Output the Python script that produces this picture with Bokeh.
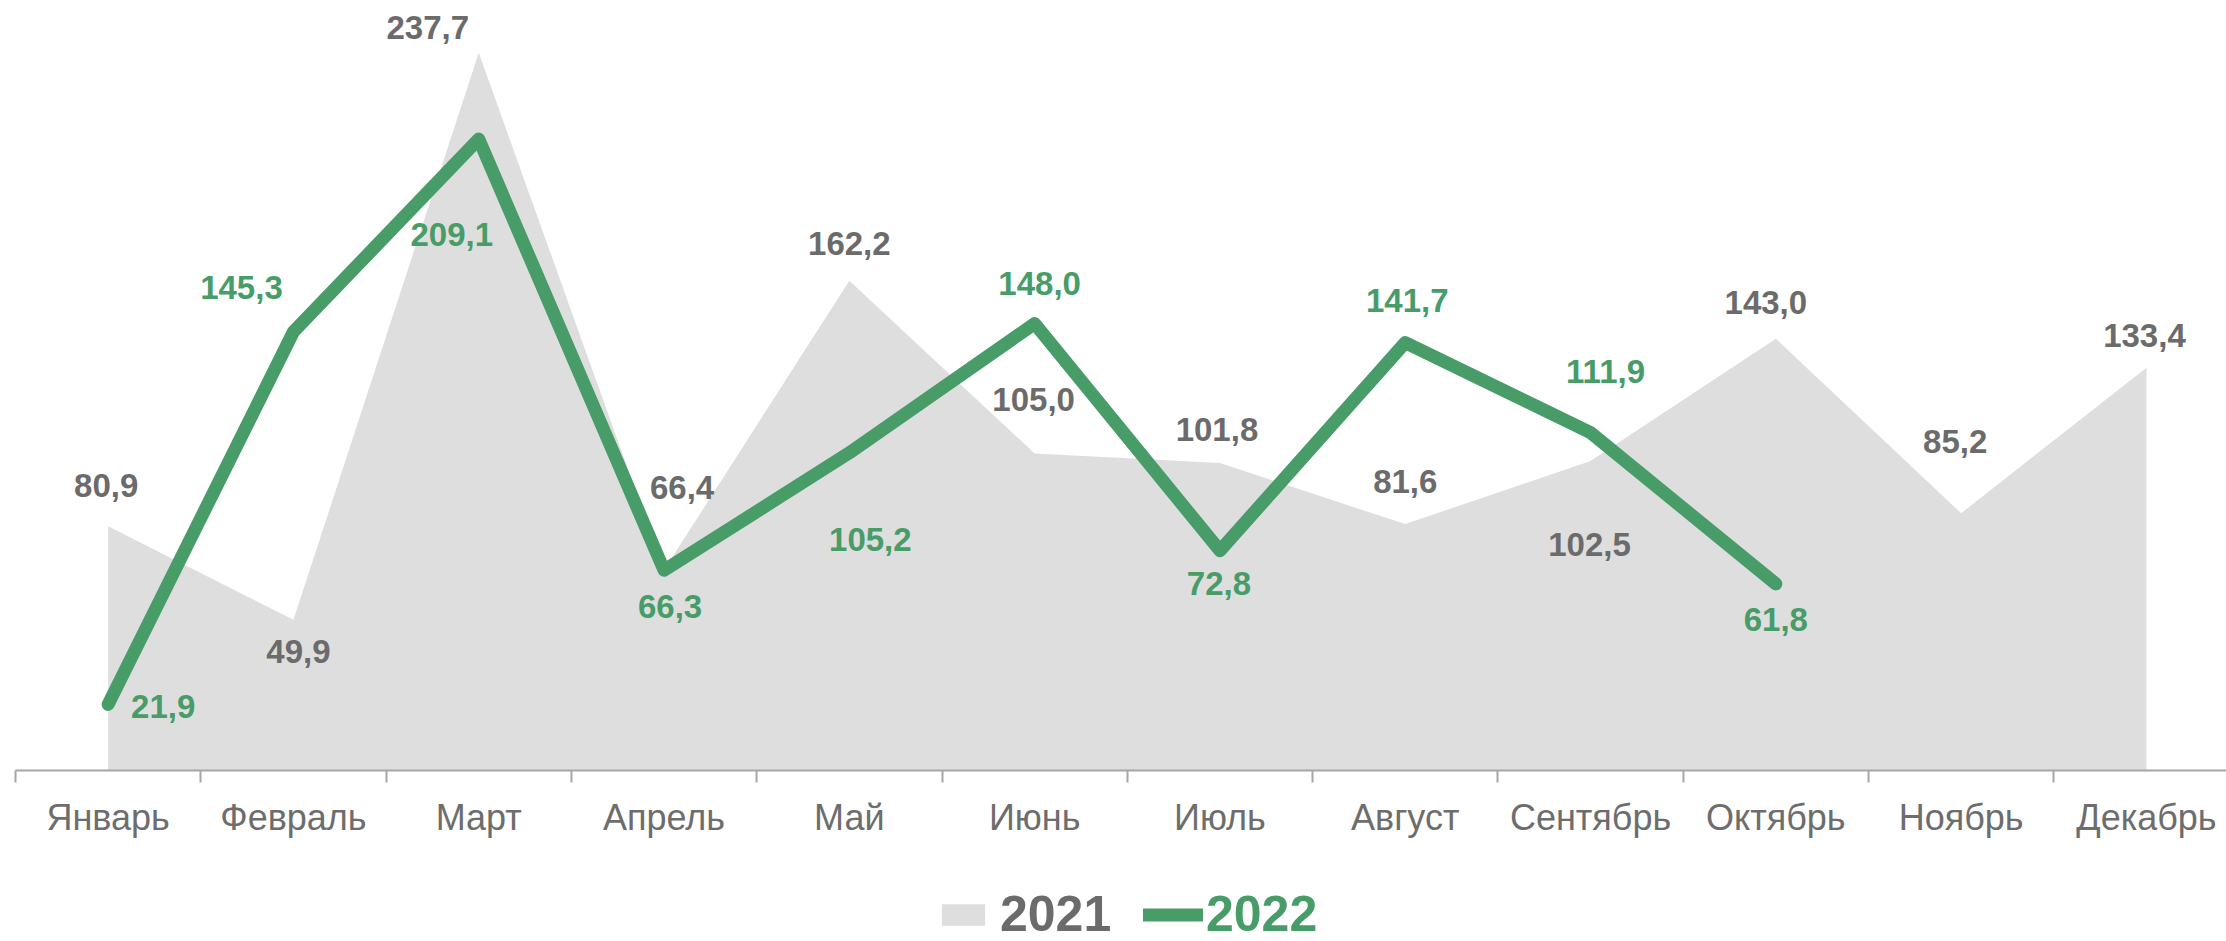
from bokeh.plotting import figure
from bokeh.layouts import column
from bokeh.models import ColumnDataSource, FixedTicker, Legend, LegendItem, Range1d
from bokeh.core.properties import value
from bokeh.embed import file_html
from bokeh.resources import INLINE

# ---- data ----
months = ["Январь", "Февраль", "Март", "Апрель", "Май", "Июнь",
          "Июль", "Август", "Сентябрь", "Октябрь", "Ноябрь", "Декабрь"]
values_2021 = [80.9, 49.9, 237.7, 66.4, 162.2, 105.0, 101.8, 81.6, 102.5, 143.0, 85.2, 133.4]
values_2022 = [21.9, 145.3, 209.1, 66.3, 105.2, 148.0, 72.8, 141.7, 111.9, 61.8]
series_names = ["2021", "2022"]
labels_2021 = [f"{v:.1f}".replace(".", ",") for v in values_2021]
labels_2022 = [f"{v:.1f}".replace(".", ",") for v in values_2022]

# ---- layout: label offsets in screen pixels ----
dx_2021 = [-2, 5, -51, 18, 0, -1, -3, 0, -1, -10, -6, -2]
dy_2021 = [-41, 32, -25, -82, -37, -54, -34, -43, 84, -36, -72, -32]
dx_2022 = [55, -52, -27, 6, 21, 5, -1, 2, 15, 0]
dy_2022 = [2, -44, 95, 36, 87, -40, 33, -42, -61, 36]

GRAY_AREA = "#dedede"
GREEN = "#479c68"
GRAY_TEXT = "#6b6b6b"
AXIS = "#a6a6a6"
FONT = "Liberation Sans"

W = 2226
MAIN_H = 850
LEG_H = 91

p = figure(width=W, height=MAIN_H, output_backend="svg", toolbar_location=None,
           x_range=Range1d(-0.5, 11.432), y_range=Range1d(0, 255),
           y_axis_location=None, min_border_left=15, min_border_right=0,
           min_border_top=0, min_border_bottom=MAIN_H - 770)
p.outline_line_color = None
p.grid.visible = False

x21 = list(range(len(values_2021)))
x22 = list(range(len(values_2022)))

src21 = ColumnDataSource(dict(x=x21, y=values_2021, t=labels_2021, dx=dx_2021, dy=dy_2021))
src22 = ColumnDataSource(dict(x=x22, y=values_2022, t=labels_2022, dx=dx_2022, dy=dy_2022))

area = p.varea(x="x", y1=0, y2="y", source=src21, fill_color=GRAY_AREA)
line = p.line(x="x", y="y", source=src22, line_color=GREEN, line_width=13,
              line_join="round", line_cap="round")

p.text(x="x", y="y", text="t", source=src21, x_offset="dx", y_offset="dy",
       text_font=value(FONT), text_font_style="bold", text_font_size="33px",
       text_color=GRAY_TEXT, text_align="center", text_baseline="middle")
p.text(x="x", y="y", text="t", source=src22, x_offset="dx", y_offset="dy",
       text_font=value(FONT), text_font_style="bold", text_font_size="33px",
       text_color=GREEN, text_align="center", text_baseline="middle")

ax = p.xaxis[0]
ax.ticker = FixedTicker(ticks=x21, minor_ticks=[i - 0.5 for i in x21])
ax.major_label_overrides = {i: m for i, m in enumerate(months)}
ax.major_tick_line_color = None
ax.major_tick_out = 0
ax.major_tick_in = 0
ax.minor_tick_in = 0
ax.minor_tick_out = 12
ax.minor_tick_line_color = AXIS
ax.minor_tick_line_width = 2
ax.axis_line_color = AXIS
ax.axis_line_width = 2
ax.major_label_text_font = FONT
ax.major_label_text_font_size = "36px"
ax.major_label_text_color = "#6d6d6d"
ax.major_label_standoff = 14

# ---- legend strip below the chart ----
lg = figure(width=W, height=LEG_H, output_backend="svg", toolbar_location=None,
            x_range=Range1d(0, 1), y_range=Range1d(0, 1),
            x_axis_location=None, y_axis_location=None,
            min_border_left=0, min_border_right=0, min_border_top=0, min_border_bottom=0)
lg.outline_line_color = None
lg.grid.visible = False
dummy_area = lg.varea(x=[-5, -4], y1=[-5, -5], y2=[-4, -4], fill_color=GRAY_AREA)
dummy_line = lg.line(x=[-5, -4], y=[-5, -4], line_color=GREEN, line_width=13,
                     line_cap="round", line_join="round")

common = dict(orientation="horizontal", padding=0, margin=0, spacing=0,
              border_line_color=None, background_fill_alpha=0,
              label_text_font=FONT, label_text_font_size="50px",
              label_text_font_style="bold", glyph_height=27)
leg1 = Legend(items=[LegendItem(label=series_names[0], renderers=[dummy_area])],
              location=(921, -2), glyph_width=54, label_standoff=10,
              label_text_color=GRAY_TEXT, **common)
leg2 = Legend(items=[LegendItem(label=series_names[1], renderers=[dummy_line])],
              location=(1128, -2), glyph_width=60, label_standoff=3,
              label_text_color=GREEN, **common)
lg.add_layout(leg1, "center")
lg.add_layout(leg2, "center")

layout = column(p, lg, spacing=0)
open("out.html", "w").write(file_html(layout, INLINE))
